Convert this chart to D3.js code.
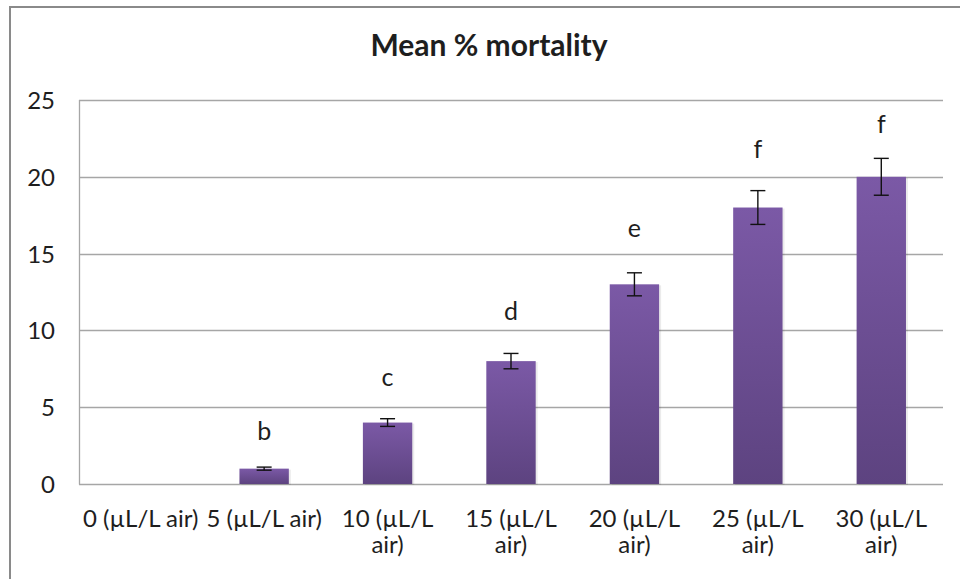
<!DOCTYPE html>
<html>
<head>
<meta charset="utf-8">
<script src="https://cdn.jsdelivr.net/npm/d3@7/dist/d3.min.js"></script>
<style>
  html, body { margin: 0; padding: 0; background: #fff; }
  svg { display: block; }
  text { font-family: Lato, "Open Sans", sans-serif; fill: #1e1e1e; }
</style>
</head>
<body>
<svg id="chart" width="960" height="579"></svg>
<script>
// ---- data ----
const categories = ["0 (µL/L air)", "5 (µL/L air)", "10 (µL/L\nair)", "15 (µL/L\nair)", "20 (µL/L\nair)", "25 (µL/L\nair)", "30 (µL/L\nair)"];
const meanMortality = [0, 1, 4, 8, 13, 18, 20];
const errorValues = [0, 0.1, 0.25, 0.5, 0.75, 1.1, 1.2];
const groupLetters = ["", "b", "c", "d", "e", "f", "f"];
const letterPositions = [0, 2.86, 6.4, 10.68, 16.08, 21.2, 22.85];
const yTicks = [0, 5, 10, 15, 20, 25];
const chartTitle = "Mean % mortality";

// ---- layout ----
const svg = d3.select("#chart");
const margin = { left: 79, right: 17 };
const W = 960;

const x = d3.scaleBand()
  .domain(categories)
  .range([margin.left, W - margin.right])
  .paddingInner(0.6)
  .paddingOuter(0.3);

const y = d3.scaleLinear().domain([0, 25]).range([484, 100]);

// outer chart border (extends past the right/bottom edge)
svg.append("rect")
  .attr("x", 10).attr("y", 7)
  .attr("width", 980).attr("height", 600)
  .attr("fill", "none")
  .attr("stroke", "#8a8a8a")
  .attr("stroke-width", 2);

// gradient
const defs = svg.append("defs");
const grad = defs.append("linearGradient")
  .attr("id", "barGrad")
  .attr("x1", 0).attr("y1", 0).attr("x2", 0).attr("y2", 1);
grad.append("stop").attr("offset", "0%").attr("stop-color", "#7b59a6");
grad.append("stop").attr("offset", "100%").attr("stop-color", "#5d4380");

// gridlines
svg.append("g")
  .selectAll("line")
  .data(yTicks)
  .join("line")
  .attr("x1", margin.left)
  .attr("x2", W - margin.right)
  .attr("y1", d => Math.round(y(d)) + 0.5)
  .attr("y2", d => Math.round(y(d)) + 0.5)
  .attr("stroke", "#a6a6a6")
  .attr("stroke-width", 1.3);

// left axis line
svg.append("line")
  .attr("x1", margin.left + 0.5).attr("x2", margin.left + 0.5)
  .attr("y1", y(25)).attr("y2", y(0) + 0.5)
  .attr("stroke", "#a6a6a6").attr("stroke-width", 1.3);

// y axis labels via d3 axis
const yAxis = d3.axisLeft(y).tickValues(yTicks).tickSize(0).tickPadding(0);
const yG = svg.append("g")
  .attr("transform", `translate(55,0)`)
  .call(yAxis);
yG.select(".domain").remove();
yG.selectAll("text")
  .attr("font-family", "Lato, 'Open Sans', sans-serif")
  .attr("font-size", 24)
  .attr("fill", "#1e1e1e")
  .attr("dy", "0.35em");

const barData = meanMortality.map((v, i) => ({ v, c: categories[i] }));

// bar shadows
svg.append("g")
  .selectAll("rect")
  .data(barData)
  .join("rect")
  .attr("x", d => x(d.c) + 2)
  .attr("y", d => y(d.v) + 1)
  .attr("width", x.bandwidth())
  .attr("height", d => y(0) - y(d.v))
  .attr("fill", "#000")
  .attr("opacity", d => d.v > 0 ? 0.08 : 0);

// bars
svg.append("g")
  .selectAll("rect")
  .data(barData)
  .join("rect")
  .attr("x", d => x(d.c))
  .attr("y", d => y(d.v))
  .attr("width", x.bandwidth())
  .attr("height", d => y(0) - y(d.v))
  .attr("fill", "url(#barGrad)");

// error bars
const capW = 15;
const eg = svg.append("g").attr("stroke", "#111").attr("stroke-width", 1.4);
meanMortality.forEach((v, i) => {
  if (v === 0) return;
  const cx = x(categories[i]) + x.bandwidth() / 2;
  const hi = y(v + errorValues[i]), lo = y(v - errorValues[i]);
  eg.append("line").attr("x1", cx).attr("x2", cx).attr("y1", hi).attr("y2", lo);
  eg.append("line").attr("x1", cx - capW / 2).attr("x2", cx + capW / 2).attr("y1", hi).attr("y2", hi);
  eg.append("line").attr("x1", cx - capW / 2).attr("x2", cx + capW / 2).attr("y1", lo).attr("y2", lo);
});

// group letters
svg.append("g")
  .selectAll("text")
  .data(groupLetters.map((l, i) => ({ l, c: categories[i], p: letterPositions[i] })))
  .join("text")
  .attr("x", d => x(d.c) + x.bandwidth() / 2)
  .attr("y", d => y(d.p))
  .attr("text-anchor", "middle")
  .attr("font-size", 25)
  .text(d => d.l);

// x axis labels (each line a separate text)
const xl = svg.append("g");
categories.forEach(c => {
  c.split("\n").forEach((line, j) => {
    xl.append("text")
      .attr("x", x(c) + x.bandwidth() / 2)
      .attr("y", 527 + j * 26)
      .attr("text-anchor", "middle")
      .attr("font-size", 24)
      .text(line);
  });
});

// title
svg.append("text")
  .attr("x", 489).attr("y", 56)
  .attr("text-anchor", "middle")
  .attr("font-size", 30)
  .attr("font-weight", "bold")
  .text(chartTitle);
</script>
</body>
</html>
